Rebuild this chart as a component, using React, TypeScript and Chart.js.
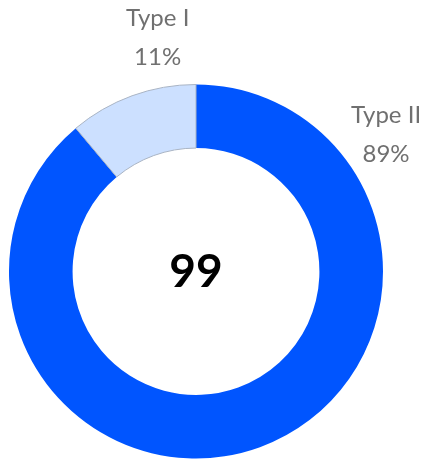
import React, { useEffect, useRef } from "react";
import { Chart, registerables } from "chart.js";

Chart.register(...registerables);

const categories = ["Type II", "Type I"];
const values = [88, 11];
const colors = ["#0055FF", "#CCE0FF"];
const borderColors = ["#0055FF", "#A9B4C4"];
const centerTotal = "99";
// label placement: angle in degrees from top (clockwise), radius as a multiple of outer radius
const labelAngles = [54.2, -9.3];
const labelRadii = [1.253, 1.27];

const labelPlugin = {
  id: "outerLabels",
  afterDraw(chart: any) {
    const ctx = chart.ctx;
    const meta = chart.getDatasetMeta(0);
    const data = chart.data.datasets[0].data as number[];
    const total = data.reduce((a, b) => a + b, 0);
    ctx.save();
    meta.data.forEach((arc: any, i: number) => {
      const { x, y, outerRadius } = arc.getProps(["x", "y", "outerRadius"], true);
      const a = (labelAngles[i] * Math.PI) / 180;
      const r = outerRadius * labelRadii[i];
      const lx = x + r * Math.sin(a);
      const ly = y - r * Math.cos(a);
      const pct = Math.round((data[i] / total) * 100) + "%";
      ctx.fillStyle = "#707070";
      ctx.font = "24px Lato";
      ctx.textAlign = "center";
      ctx.textBaseline = "middle";
      ctx.fillText(chart.data.labels[i], lx, ly - 19);
      ctx.fillText(pct, lx, ly + 20);
    });
    const arc0 = meta.data[0] as any;
    ctx.fillStyle = "#000";
    ctx.font = "bold 46px Lato";
    ctx.textAlign = "center";
    ctx.textBaseline = "middle";
    ctx.fillText(centerTotal, arc0.x, arc0.y + 1);
    ctx.restore();
  },
};

export default function App() {
  const ref = useRef<HTMLCanvasElement>(null);
  useEffect(() => {
    if (!ref.current) return;
    const chart = new Chart(ref.current, {
      type: "doughnut",
      data: {
        labels: categories,
        datasets: [
          {
            data: values,
            backgroundColor: colors,
            borderColor: borderColors,
            borderWidth: [0, 1],
          },
        ],
      },
      options: {
        responsive: false,
        animation: false,
        cutout: "66%",
        layout: { padding: { left: 8, top: 84, right: 42, bottom: 0 } },
        plugins: {
          legend: { display: false },
          tooltip: { enabled: false },
        },
      },
      plugins: [labelPlugin],
    });
    return () => chart.destroy();
  }, []);
  return (
    <div style={{ position: "fixed", left: 0, top: 0, width: 426, height: 459, background: "#fff" }}>
      <canvas ref={ref} width={426} height={459} style={{ display: "block" }} />
    </div>
  );
}
